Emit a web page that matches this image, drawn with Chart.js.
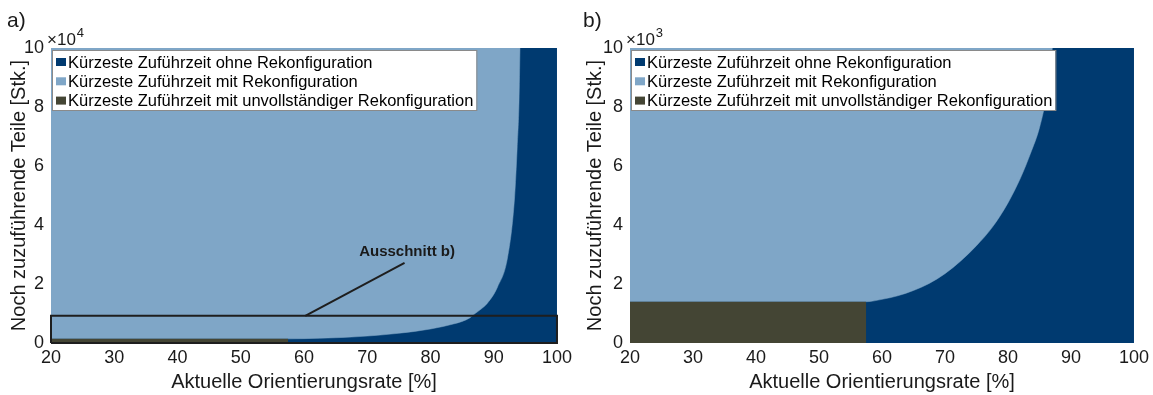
<!DOCTYPE html>
<html>
<head>
<meta charset="utf-8">
<script src="https://cdn.jsdelivr.net/npm/chart.js@4.4.1/dist/chart.umd.min.js"></script>
<style>
  html, body { margin: 0; padding: 0; background: #fff; }
  #wrap { position: relative; width: 1153px; height: 395px; }
  .pane { position: absolute; top: 0; height: 395px; }
</style>
</head>
<body>
<div id="wrap">
  <div class="pane" style="left:0;width:576px"><canvas id="chartA" width="576" height="395"></canvas></div>
  <div class="pane" style="left:576px;width:577px"><canvas id="chartB" width="577" height="395"></canvas></div>
</div>
<script>
// x axis: orientation rate in percent
const xTicks = [20, 30, 40, 50, 60, 70, 80, 90, 100];
const yTicks = [0, 2, 4, 6, 8, 10];

// boundary between "mit Rekonfiguration" (above/left) and "ohne Rekonfiguration" (below/right), in parts
const boundaryX = [57.5, 60, 62.5, 65, 67.5, 70, 72.5, 75, 77.5, 80, 82, 83.6, 85, 86.2, 87.06,
                   88, 89, 90.6, 92.2, 93.3, 93.7, 94.0, 94.15];
const boundaryParts = [1400, 1480, 1600, 1780, 2020, 2350, 2780, 3300, 3920, 4750, 5600, 6440, 7300, 8500, 10000,
                       11500, 13500, 19000, 29200, 49500, 66000, 82000, 100000];

// "unvollständige Rekonfiguration" block
const incompleteX = [20, 57.5];
const incompleteParts = [1400, 1400];

// zoom box "Ausschnitt b)" shown in panel a
const cutoutX = [20, 100, 100, 20, 20];
const cutoutParts = [0, 0, 9200, 9200, 0];
const pointerX = [60.2, 75.9];
const pointerParts = [9200, 27200];
const pointerLabel = { x: 76.3, parts: 30800, text: 'Ausschnitt b)' };

const legendLabels = [
  'Kürzeste Zuführzeit ohne Rekonfiguration',
  'Kürzeste Zuführzeit mit Rekonfiguration',
  'Kürzeste Zuführzeit mit unvollständiger Rekonfiguration'
];
const colors = ['#003a70', '#7fa6c7', '#444534'];

const FONT = '"Liberation Sans", Arial, Helvetica, sans-serif';
const TEXT = '#1a1a1a';

function pts(xs, ys, unit, maxParts) {
  const out = [];
  for (let i = 0; i < xs.length; i++) {
    if (maxParts !== undefined && ys[i] > maxParts) continue;
    out.push({ x: xs[i], y: ys[i] / unit });
  }
  return out;
}

const decorPlugin = {
  id: 'decor',
  afterDraw(chart) {
    const cfg = chart.options.plugins.decor;
    const ctx = chart.ctx;
    const a = chart.chartArea;
    ctx.save();
    // panel letter
    ctx.fillStyle = TEXT;
    ctx.textBaseline = 'alphabetic';
    ctx.textAlign = 'left';
    ctx.font = '21px ' + FONT;
    ctx.fillText(cfg.letter, 7, 27);
    // exponent
    ctx.font = '17px ' + FONT;
    const ex = a.left - 4;
    ctx.fillText('\u00d710', ex, 45);
    const w = ctx.measureText('\u00d710').width;
    ctx.font = '13px ' + FONT;
    ctx.fillText(cfg.exp, ex + w + 1, 37);

    // callout label
    if (cfg.callout) {
      const xs = chart.scales.x, ys = chart.scales.y;
      ctx.font = 'bold 15px ' + FONT;
      ctx.textAlign = 'center';
      ctx.textBaseline = 'middle';
      ctx.fillText(pointerLabel.text, xs.getPixelForValue(pointerLabel.x), ys.getPixelForValue(pointerLabel.parts / cfg.unit));
    }

    // legend box
    ctx.font = '16.5px ' + FONT;
    let maxW = 0;
    legendLabels.forEach(t => { maxW = Math.max(maxW, ctx.measureText(t).width); });
    const bx = a.left + 1, by = a.top + 2;
    const bw = maxW + 19, bh = 60;
    ctx.fillStyle = '#fff';
    ctx.fillRect(bx, by, bw, bh);
    ctx.strokeStyle = '#8a8a8a';
    ctx.lineWidth = 1;
    ctx.strokeRect(bx + 0.5, by + 0.5, bw, bh);
    ctx.textAlign = 'left';
    ctx.textBaseline = 'middle';
    legendLabels.forEach((t, i) => {
      const cy = by + 12 + i * 19.3;
      ctx.fillStyle = colors[i];
      ctx.fillRect(bx + 4, cy - 4, 10, 8);
      ctx.fillStyle = '#000';
      ctx.fillText(t, bx + 16, cy + 1);
    });
    ctx.restore();
  }
};

function makeChart(id, unit, maxParts, letter, exp, areaLeft, areaRight, callout) {
  const canvas = document.getElementById(id);
  const top = maxParts / unit;
  const datasets = [
    {
      label: legendLabels[0],
      data: [{ x: 20, y: top }, { x: 100, y: top }],
      backgroundColor: colors[0], borderWidth: 0, pointRadius: 0,
      fill: 'origin', order: 5
    },
    {
      label: legendLabels[1],
      data: pts(incompleteX.slice(0, 1).concat(boundaryX), incompleteParts.slice(0, 1).concat(boundaryParts), unit, maxParts),
      backgroundColor: colors[1], borderColor: colors[1], borderWidth: 0.5, pointRadius: 0,
      cubicInterpolationMode: 'monotone',
      fill: 'end', order: 4
    },
    {
      label: legendLabels[2],
      data: pts(incompleteX, incompleteParts, unit),
      backgroundColor: colors[2], borderWidth: 0, pointRadius: 0,
      fill: 'origin', order: 3
    }
  ];
  if (callout) {
    datasets.push({
      label: 'cutout',
      data: pts(cutoutX, cutoutParts, unit),
      borderColor: '#1e1e1e', borderWidth: 2, pointRadius: 0, fill: false, order: 2, clip: 3
    });
    datasets.push({
      label: 'pointer',
      data: pts(pointerX, pointerParts, unit),
      borderColor: '#1e1e1e', borderWidth: 2, pointRadius: 0, fill: false, order: 1
    });
  }
  return new Chart(canvas.getContext('2d'), {
    type: 'line',
    data: { datasets: datasets },
    plugins: [decorPlugin],
    options: {
      responsive: false,
      animation: false,
      devicePixelRatio: 1,
      layout: { padding: { left: 0, top: 48, right: canvas.width - areaRight, bottom: 0 } },
      plugins: {
        legend: { display: false },
        tooltip: { enabled: false },
        decor: { letter: letter, exp: exp, unit: unit, callout: callout }
      },
      scales: {
        x: {
          type: 'linear', min: 20, max: 100,
          afterBuildTicks: s => { s.ticks = xTicks.map(v => ({ value: v })); },
          afterFit: s => { s.height = 52; },
          grid: { display: false, drawTicks: false },
          border: { display: false },
          ticks: { color: TEXT, font: { family: FONT, size: 18 }, padding: 4, maxRotation: 0, autoSkip: false },
          title: { display: true, text: 'Aktuelle Orientierungsrate [%]', color: TEXT,
                   font: { family: FONT, size: 20 }, padding: { top: 0, bottom: 1 } }
        },
        y: {
          type: 'linear', min: 0, max: 10,
          afterBuildTicks: s => { s.ticks = yTicks.map(v => ({ value: v })); },
          afterFit: s => { s.width = areaLeft; },
          grid: { display: false, drawTicks: false },
          border: { display: false },
          ticks: { color: TEXT, font: { family: FONT, size: 18 }, padding: 7 },
          title: { display: true, text: 'Noch zuzuführende Teile [Stk.]', color: TEXT,
                   font: { family: FONT, size: 20 }, padding: { top: 7, bottom: 0 } }
        }
      }
    }
  });
}

makeChart('chartA', 10000, 100000, 'a)', '4', 51, 560, true);
makeChart('chartB', 1000, 10000, 'b)', '3', 54, 562, false);
</script>
</body>
</html>
